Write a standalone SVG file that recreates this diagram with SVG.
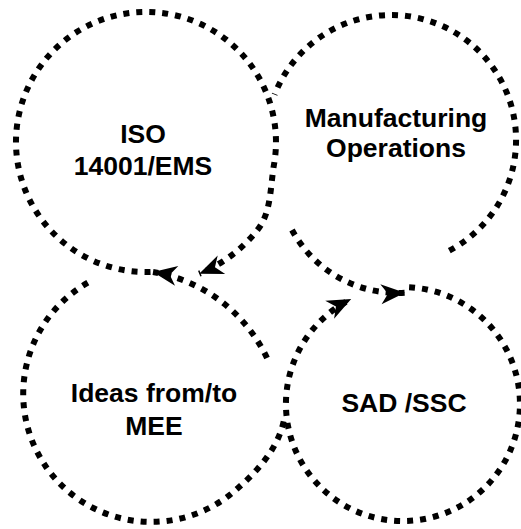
<svg xmlns="http://www.w3.org/2000/svg" width="521" height="529" viewBox="0 0 521 529">
  <style>
    .ring { fill: none; stroke: #000; stroke-width: 6; stroke-dasharray: 6 7; }
    .arrow { marker-end: url(#head); }
    .lbl { font-family: "Liberation Sans", Arial, sans-serif; font-size: 26.5px; font-weight: bold; fill: #000; text-anchor: middle; }
  </style>
  <defs>
    <marker id="head" markerUnits="userSpaceOnUse" markerWidth="26" markerHeight="22" viewBox="0 0 26 22" refX="24" refY="11" orient="auto" overflow="visible">
      <path d="M0,1 L24,11 L0,21 L7,11 z" fill="#000" stroke="none"/>
    </marker>
  </defs>
  <rect width="521" height="529" fill="#fff"/>

  <g id="node-iso">
    <path class="ring arrow" d="M150.5,271.9 A130,130 0 1 1 274,164.6 C270.2,186.7 271.4,212.1 257.9,229.4 A142,142 0 0 1 199.2,273.7"/>
    <text class="lbl" x="143" y="143">ISO</text>
    <text class="lbl" x="143" y="175">14001/EMS</text>
  </g>

  <g id="node-manufacturing">
    <path class="ring" d="M449.3,250.6 A125,125 0 1 0 274.6,94.6"/>
    <text class="lbl" x="396" y="127">Manufacturing</text>
    <text class="lbl" x="396" y="157">Operations</text>
  </g>

  <g id="node-ideas">
    <path class="ring" d="M87.8,282.7 A128,128 0 1 0 233.3,492.1 C256.3,472.8 278,449.4 284,420"/>
    <text class="lbl" x="154" y="402">Ideas from/to</text>
    <text class="lbl" x="154" y="435">MEE</text>
  </g>

  <g id="node-sad">
    <path class="ring arrow" d="M409.1,287.2 A117,117 0 1 1 351.2,299.1"/>
    <text class="lbl" x="404" y="412">SAD /SSC</text>
  </g>

  <g id="connectors">
    <path class="ring arrow" d="M292,230 A119.6,119.6 0 0 0 404.9,292.7"/>
    <path class="ring arrow" d="M267,358 A154,154 0 0 0 153,272"/>
  </g>
</svg>
